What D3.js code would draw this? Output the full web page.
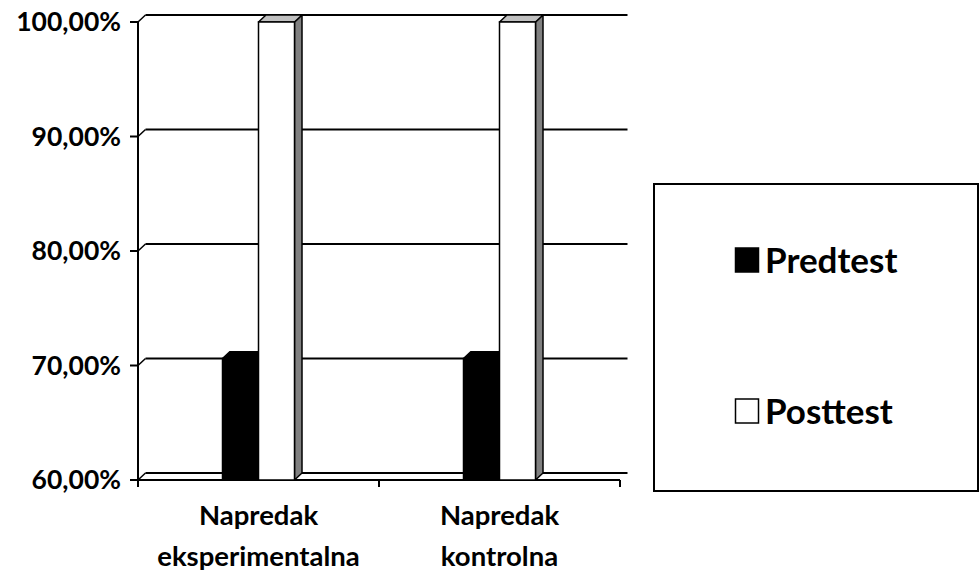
<!DOCTYPE html>
<html>
<head>
<meta charset="utf-8">
<script src="https://cdn.jsdelivr.net/npm/d3@7"></script>
<style>
  html, body { margin: 0; padding: 0; background: #fff; }
  svg { display: block; }
  text { font-family: Lato, "Open Sans", sans-serif; font-weight: bold; fill: #000; }
</style>
</head>
<body>
<svg id="chart" width="979" height="574"></svg>
<script>
// ---- data ----
const categories = [["Napredak", "eksperimentalna"], ["Napredak", "kontrolna"]];
const seriesNames = ["Predtest", "Posttest"];
const predtest = [0.706, 0.706];
const posttest = [1.0, 1.0];
const yTicks = [0.6, 0.7, 0.8, 0.9, 1.0];

const svg = d3.select("#chart");

// geometry
const frontLeft = 138, frontRight = 620;
const dx = 7.5, dy = 7;
const backTop = 15, backBottom = 473;

const yBack = d3.scaleLinear().domain([0.6, 1.0]).range([backBottom, backTop]);
const yFront = v => yBack(v) + dy;
const floorY = yFront(0.6);

const x0 = d3.scaleBand().domain(d3.range(categories.length)).range([frontLeft, frontRight]).padding(0);
const groupW = 72;
const x1 = d3.scaleBand().domain(seriesNames).range([0, groupW]).padding(0);

const fmt = v => d3.format(".2f")(v * 100).replace(".", ",") + "%";

// gridlines on back wall + side diagonals
const grid = svg.append("g");
yTicks.forEach(t => {
  grid.append("line")
    .attr("x1", frontLeft + dx).attr("x2", frontRight + dx)
    .attr("y1", yBack(t)).attr("y2", yBack(t))
    .attr("stroke", "#000").attr("stroke-width", 2);
  grid.append("line")
    .attr("x1", frontLeft).attr("y1", yFront(t))
    .attr("x2", frontLeft + dx).attr("y2", yBack(t))
    .attr("stroke", "#000").attr("stroke-width", 1.5);
});

// front floor line
svg.append("line")
  .attr("x1", frontLeft).attr("x2", frontRight)
  .attr("y1", floorY).attr("y2", floorY)
  .attr("stroke", "#000").attr("stroke-width", 2);

// bars
const seriesVals = { "Predtest": predtest, "Posttest": posttest };
const styles = {
  "Predtest": { front: "#000", top: "#000", side: "#000" },
  "Posttest": { front: "#fff", top: "#c0c0c0", side: "#808080" }
};
const bars = svg.append("g");
categories.forEach((c, i) => {
  const gx = x0(i) + x0.bandwidth() / 2 - groupW / 2;
  seriesNames.forEach(s => {
    const v = seriesVals[s][i];
    const x = gx + x1(s), w = x1.bandwidth();
    const yf = yFront(v);
    const st = styles[s];
    const g = bars.append("g");
    g.append("polygon")
      .attr("points", [[x + w, yf], [x + w + dx, yf - dy], [x + w + dx, floorY - dy], [x + w, floorY]].join(" "))
      .attr("fill", st.side).attr("stroke", "#000").attr("stroke-width", 1.5).attr("stroke-linejoin", "round");
    g.append("polygon")
      .attr("points", [[x, yf], [x + dx, yf - dy], [x + w + dx, yf - dy], [x + w, yf]].join(" "))
      .attr("fill", st.top).attr("stroke", "#000").attr("stroke-width", 1.5).attr("stroke-linejoin", "round");
    g.append("rect")
      .attr("x", x).attr("y", yf).attr("width", w).attr("height", floorY - yf)
      .attr("fill", st.front).attr("stroke", "#000").attr("stroke-width", 1.5);
  });
});

// value axis (front)
const ya = svg.append("g");
ya.append("line")
  .attr("x1", frontLeft).attr("x2", frontLeft)
  .attr("y1", yFront(1.0)).attr("y2", floorY + 7)
  .attr("stroke", "#000").attr("stroke-width", 2);
yTicks.forEach(t => {
  ya.append("line")
    .attr("x1", frontLeft - 8).attr("x2", frontLeft)
    .attr("y1", yFront(t)).attr("y2", yFront(t))
    .attr("stroke", "#000").attr("stroke-width", 2);
  ya.append("text")
    .attr("x", frontLeft - 17).attr("y", yFront(t))
    .attr("dy", "0.35em")
    .attr("text-anchor", "end")
    .style("font-size", "26.5px")
    .text(fmt(t));
});

// category ticks and labels
const xa = svg.append("g");
d3.range(categories.length + 1).forEach(i => {
  const xx = frontLeft + i * x0.bandwidth();
  xa.append("line")
    .attr("x1", xx).attr("x2", xx)
    .attr("y1", floorY).attr("y2", floorY + 7)
    .attr("stroke", "#000").attr("stroke-width", 2);
});
categories.forEach((c, i) => {
  const cx = x0(i) + x0.bandwidth() / 2;
  const t = xa.append("text").attr("text-anchor", "middle").style("font-size", "27.5px");
  c.forEach((line, k) => {
    t.append("tspan").attr("x", cx).attr("y", 525 + k * 41).text(line);
  });
});

// legend
const lg = svg.append("g");
lg.append("rect")
  .attr("x", 654).attr("y", 184).attr("width", 324).attr("height", 307)
  .attr("fill", "#fff").attr("stroke", "#000").attr("stroke-width", 2);
const legendY = d3.scalePoint().domain(seriesNames).range([273, 424]);
seriesNames.forEach(s => {
  const by = legendY(s);
  lg.append("rect")
    .attr("x", 735.5).attr("y", by - 25).attr("width", 23).attr("height", 24)
    .attr("fill", styles[s].front).attr("stroke", "#000").attr("stroke-width", 1.5);
  lg.append("text")
    .attr("x", 765).attr("y", by)
    .style("font-size", "35px")
    .text(s);
});
</script>
</body>
</html>
